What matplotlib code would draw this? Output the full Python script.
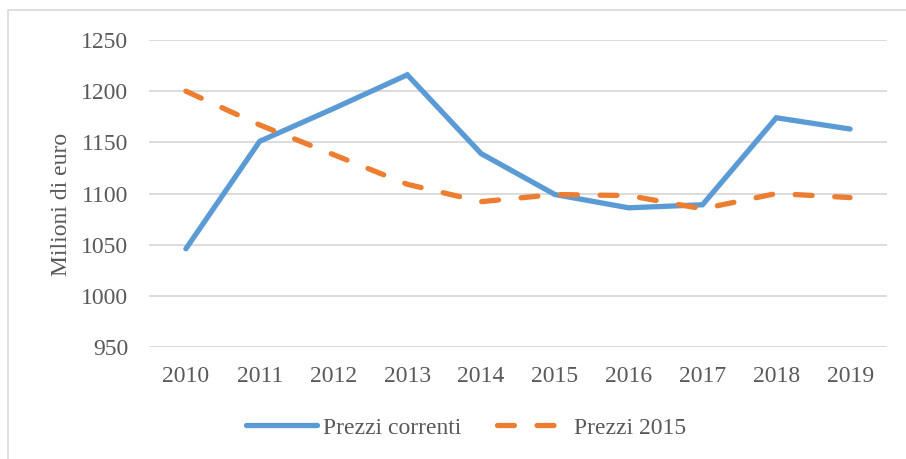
import matplotlib
matplotlib.use('Agg')
from matplotlib import pyplot as plt
from matplotlib.lines import Line2D
from matplotlib.patches import Rectangle

years = ['2010', '2011', '2012', '2013', '2014', '2015', '2016', '2017', '2018', '2019']
prezzi_correnti = [1046, 1151, 1183, 1216, 1139, 1099, 1086, 1089, 1174, 1163]
prezzi_2015 = [1200, 1167, 1138, 1109, 1092, 1099, 1098, 1085, 1100, 1096]

blue = '#5b9bd5'
orange = '#ed7d31'
grey = '#595959'

plt.rcParams['font.family'] = ['Liberation Serif', 'DejaVu Serif']

W, H = 906, 459
fig = plt.figure(figsize=(W / 100, H / 100), dpi=100)
fig.patches.append(Rectangle((8 / W, -0.1), 1.1, 1 - 10 / H + 0.1, transform=fig.transFigure,
                             fill=False, edgecolor='#d9d9d9', linewidth=1.2))

ax = fig.add_axes([149 / W, 1 - 347 / H, (887 - 149) / W, (347 - 40) / H])
x = range(len(years))
ax.plot(x, prezzi_correnti, color=blue, lw=3.8, solid_capstyle='round', solid_joinstyle='miter',
        label='Prezzi correnti')
ax.plot(x, prezzi_2015, color=orange, lw=3.8, dashes=(3.2, 4.3), dash_capstyle='round',
        label='Prezzi 2015')

ax.set_xlim(-0.5, len(years) - 0.5)
ax.set_ylim(950, 1250)
ax.set_yticks(range(950, 1251, 50))
ax.set_xticks(list(x))
ax.set_xticklabels(years)
for s in ax.spines.values():
    s.set_visible(False)
ax.grid(axis='y', color='#d9d9d9', lw=1.3)
ax.set_axisbelow(True)
ax.tick_params(length=0, labelsize=17, labelcolor=grey)
ax.tick_params(axis='y', pad=15)
ax.tick_params(axis='x', pad=14)
ax.set_ylabel('Milioni di euro', fontsize=17, color=grey)
ax.yaxis.set_label_coords(-0.105, 0.466)

handles = [Line2D([], [], color=blue, lw=3.8, solid_capstyle='round'),
           Line2D([], [], color=orange, lw=3.8, dashes=(3.2, 4.3), dash_capstyle='round')]
fig.legend(handles, ['Prezzi correnti', 'Prezzi 2015'], loc='center', bbox_to_anchor=(466 / W, 1 - 428 / H),
           ncol=2, frameon=False, fontsize=17, labelcolor=grey, handlelength=3.0,
           handletextpad=0.25, columnspacing=1.5)

fig.savefig('out.png', dpi=100)
